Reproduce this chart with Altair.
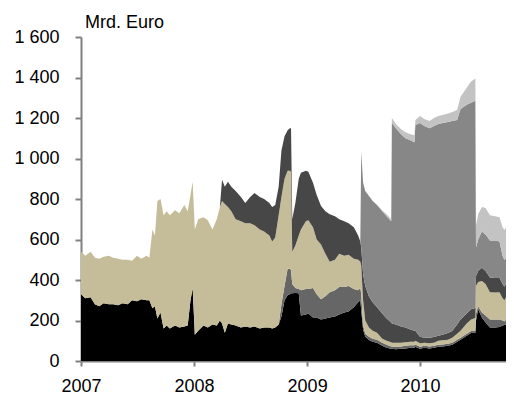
import altair as alt
import pandas as pd

# ---- dates (weekly-ish samples) ----
dates_2007 = ["2007-01-01", "2007-01-15", "2007-02-01", "2007-02-15", "2007-03-01", "2007-03-15",
              "2007-04-01", "2007-04-15", "2007-05-01", "2007-05-15", "2007-06-01", "2007-06-15",
              "2007-07-01", "2007-07-15", "2007-08-01", "2007-08-10", "2007-08-20", "2007-08-28",
              "2007-09-05", "2007-09-15", "2007-09-25", "2007-10-05", "2007-10-15", "2007-11-01",
              "2007-11-15", "2007-12-01", "2007-12-12", "2007-12-21", "2007-12-28"]
dates_2008 = ["2008-01-04", "2008-01-15", "2008-02-01", "2008-02-15", "2008-03-01", "2008-03-15",
              "2008-03-25", "2008-04-01", "2008-04-10", "2008-04-20", "2008-05-01", "2008-05-15",
              "2008-06-01", "2008-06-15", "2008-07-01", "2008-07-15", "2008-08-01", "2008-08-15",
              "2008-09-01", "2008-09-10", "2008-09-20", "2008-10-01", "2008-10-10", "2008-10-20",
              "2008-10-30", "2008-11-06", "2008-11-10", "2008-11-14", "2008-11-24", "2008-12-05",
              "2008-12-12", "2008-12-28"]
dates_2009 = ["2009-01-05", "2009-01-20", "2009-02-01", "2009-02-15", "2009-03-01", "2009-03-15",
              "2009-04-01", "2009-04-15", "2009-05-01", "2009-05-15", "2009-06-01", "2009-06-15",
              "2009-06-22", "2009-06-25", "2009-07-01", "2009-07-08", "2009-07-20", "2009-08-01",
              "2009-08-15", "2009-09-01", "2009-09-15", "2009-09-30", "2009-10-02", "2009-10-15",
              "2009-11-01", "2009-11-15", "2009-12-01", "2009-12-14", "2009-12-17"]
dates_2010 = ["2010-01-01", "2010-01-15", "2010-02-01", "2010-02-15", "2010-03-01", "2010-03-15",
              "2010-04-01", "2010-04-15", "2010-05-01", "2010-05-12", "2010-06-01", "2010-06-15",
              "2010-06-29", "2010-07-01", "2010-07-08", "2010-07-20", "2010-08-01", "2010-08-15",
              "2010-09-01", "2010-09-15", "2010-09-25", "2010-10-01", "2010-10-15", "2010-10-25",
              "2010-11-01"]

# ---- series values (Mrd. Euro), bottom to top ----
black_2007 = [330, 310, 315, 280, 270, 285, 280, 280, 275, 285, 280, 300, 295, 305, 300, 300, 260, 270,
              210, 240, 160, 175, 160, 175, 165, 170, 175, 300, 360]
black_2008 = [130, 150, 175, 165, 180, 175, 200, 185, 140, 185, 180, 175, 165, 170, 165, 170, 160, 165,
              165, 160, 165, 180, 220, 300, 325, 330, 335, 335, 336, 335, 225, 230]
black_2009 = [235, 215, 215, 205, 210, 215, 220, 230, 240, 245, 265, 290, 300, 250, 155, 120, 104, 95,
              90, 75, 65, 60, 60, 58, 60, 62, 65, 65, 70]
black_2010 = [60, 65, 62, 65, 70, 72, 75, 80, 95, 105, 125, 138, 140, 200, 255, 215, 190, 165,
              165, 168, 175, 178, 185, 185, 186]

grey_2007 = [0] * 29
grey_2008 = [0] * 21 + [0, 60, 70, 130, 125, 115, 45, 24, 20, 125, 125]
grey_2009 = [120, 145, 115, 100, 110, 125, 130, 135, 125, 125, 90, 60, 60, 80, 20, 15, 16, 15,
             15, 15, 15, 12, 12, 12, 12, 13, 13, 13, 12]
grey_2010 = [10, 10, 10, 10, 10, 10, 10, 10, 10, 10, 10, 10, 10, 35, 15, 25, 35, 40,
             40, 37, 25, 17, 35, 50, 51]

tan_2007 = [210, 210, 225, 230, 235, 230, 240, 230, 230, 215, 220, 195, 225, 200, 220, 210, 390, 350,
            580, 560, 560, 565, 560, 570, 565, 600, 565, 520, 525]
tan_2008 = [520, 550, 535, 530, 470, 525, 560, 605, 635, 575, 560, 525, 525, 510, 515, 500, 490, 475,
            455, 430, 445, 540, 530, 530, 485, 485, 485, 160, 210, 265, 300, 335]
tan_2009 = [340, 300, 270, 270, 210, 150, 150, 165, 155, 155, 150, 150, 130, 140, 125, 65, 45, 40,
            35, 20, 20, 20, 18, 20, 18, 17, 17, 17, 18]
tan_2010 = [18, 15, 16, 15, 20, 20, 20, 25, 30, 35, 50, 57, 62, 135, 120, 155, 155, 135,
            133, 135, 110, 105, 120, 125, 123]

dark_2007 = [0] * 29
dark_2008 = [0] * 7 + [105, 85, 125, 120, 140, 120, 100, 130, 160, 160, 160, 160, 170, 160, 140,
                       230, 210, 200, 210, 215, 160, 210, 280, 280, 250]
dark_2009 = [240, 220, 220, 190, 210, 235, 215, 170, 170, 155, 155, 120, 100, 90, 130, 170, 153, 140,
             125, 125, 110, 98, 95, 90, 80, 73, 60, 55, 50]
dark_2010 = [32, 25, 27, 28, 25, 28, 33, 33, 45, 55, 50, 50, 50, 50, 55, 65, 65, 72,
             72, 70, 70, 67, 70, 70, 74]

mid_2007 = [0] * 29
mid_2008 = [0] * 32
mid_2009 = [0] * 13 + [475, 450, 470, 497, 500, 505, 505, 505, 500, 990, 970, 950, 935, 935, 930, 1015]
mid_2010 = [1055, 1045, 1035, 1042, 1045, 1045, 1042, 1037, 1010, 1040, 1030, 1020, 1023, 140, 155, 180,
            180, 183, 185, 180, 140, 132, 120, 105, 101]

light_2007 = [0] * 29
light_2008 = [0] * 32
light_2009 = [0] * 19 + [5, 10, 10, 25, 20, 25, 30, 30, 35, 25]
light_2010 = [35, 35, 35, 40, 40, 40, 42, 45, 50, 60, 85, 105, 110, 110, 125, 120, 130, 125,
              120, 120, 140, 148, 155, 160, 162]

dates = dates_2007 + dates_2008 + dates_2009 + dates_2010
series_keys = ["s1", "s2", "s3", "s4", "s5", "s6"]
series_vals = [
    black_2007 + black_2008 + black_2009 + black_2010,
    grey_2007 + grey_2008 + grey_2009 + grey_2010,
    tan_2007 + tan_2008 + tan_2009 + tan_2010,
    dark_2007 + dark_2008 + dark_2009 + dark_2010,
    mid_2007 + mid_2008 + mid_2009 + mid_2010,
    light_2007 + light_2008 + light_2009 + light_2010,
]
colors = ["#000000", "#666666", "#c5bd99", "#474747", "#878787", "#c3c3c3"]

rows = []
for i, d in enumerate(dates):
    for k, key in enumerate(series_keys):
        rows.append({"date": d + "T00:00:00", "series": key, "rank": k, "value": series_vals[k][i]})
df = pd.DataFrame(rows)

FONT = "Liberation Sans"
year_ticks = [alt.DateTime(year=y, month=1, date=1) for y in (2007, 2008, 2009, 2010)]

areas = alt.Chart(df).mark_area(interpolate="linear", clip=True).encode(
    x=alt.X("date:T",
            scale=alt.Scale(domain=[alt.DateTime(year=2007, month=1, date=1),
                                    alt.DateTime(year=2010, month=10, date=6)]),
            axis=alt.Axis(values=year_ticks, format="%Y", title=None, labelFlush=False,
                          tickSize=5, labelPadding=11, labelAlign="center")),
    y=alt.Y("value:Q", stack="zero",
            scale=alt.Scale(domain=[0, 1600], nice=False),
            axis=alt.Axis(values=list(range(0, 1601, 200)), title=None, tickSize=6, labelPadding=16,
                          labelExpr="replace(format(datum.value, ','), ',', ' ')")),
    color=alt.Color("series:N", scale=alt.Scale(domain=series_keys, range=colors), legend=None),
    order=alt.Order("rank:Q"),
)

unit = alt.Chart(pd.DataFrame({"t": ["Mrd. Euro"]})).mark_text(
    align="left", baseline="alphabetic", fontSize=18, font=FONT, color="#000000"
).encode(text="t:N", x=alt.value(4), y=alt.value(-9))

chart = alt.layer(areas, unit).properties(
    width=425, height=324,
    padding={"left": 73, "top": 29, "right": 0, "bottom": 34},
    autosize=alt.AutoSizeParams(type="none"),
).configure_view(stroke=None).configure_axis(
    grid=False, domainColor="#808080", tickColor="#808080", domainWidth=2, tickWidth=2,
    labelFont=FONT, labelFontSize=18, labelColor="#000000",
)

chart.save("out.html", embed_options={"renderer": "svg", "actions": False})
